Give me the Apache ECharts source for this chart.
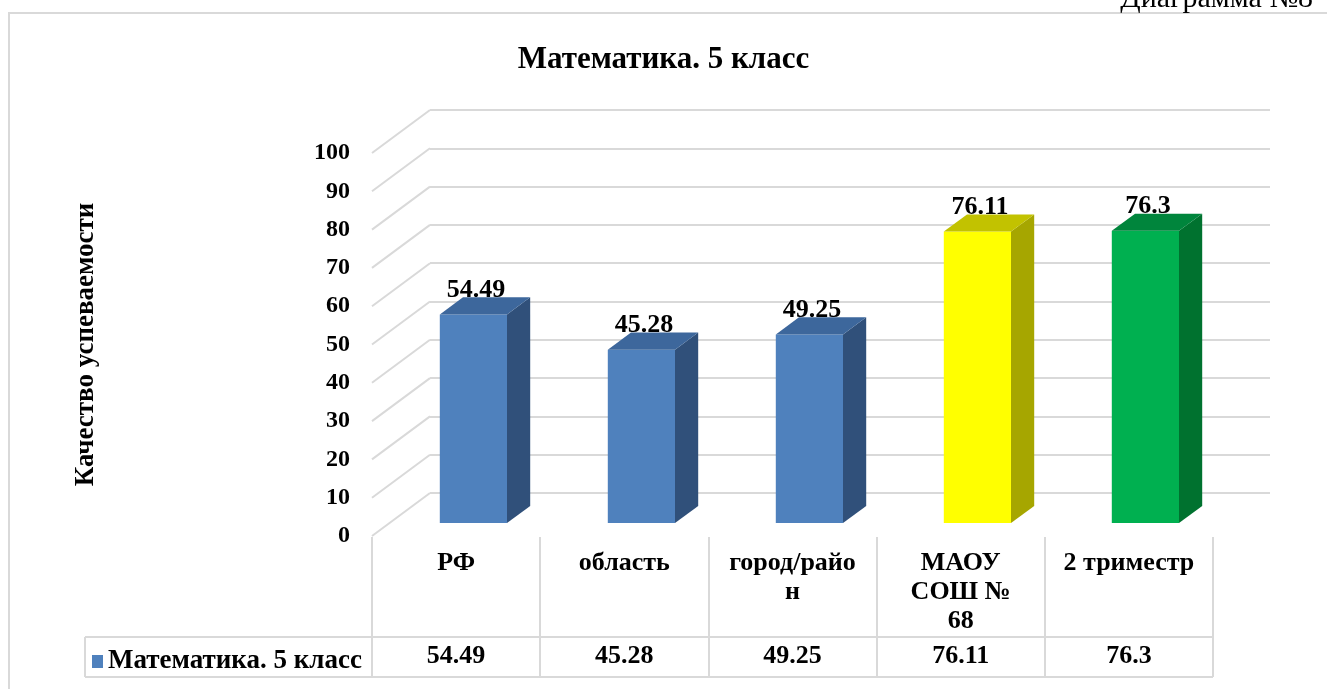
<!DOCTYPE html>
<html lang="ru">
<head>
    <meta charset="UTF-8">
    <title>Математика. 5 класс</title>
    <script src="https://cdn.jsdelivr.net/npm/echarts@6/dist/echarts.min.js"></script>
</head>
<body style="margin: 0">
<div id="container" style="width: 1327px; height: 689px"></div>
<script type="text/javascript">
    // данные диаграммы
    var categories = ['РФ', 'область', 'город/район', 'МАОУ СОШ № 68', '2 триместр'];
    var categoryLabels = ['РФ', 'область', 'город/райо\nн', 'МАОУ\nСОШ №\n68', '2 триместр'];
    var values = [54.49, 45.28, 49.25, 76.11, 76.3];
    var yTicks = [0, 10, 20, 30, 40, 50, 60, 70, 80, 90, 100];
    var seriesName = 'Математика. 5 класс';

    // цвета граней
    var frontColors = ['#4F81BD', '#4F81BD', '#4F81BD', '#FFFF00', '#00B050'];
    var sideColors = ['#30507A', '#30507A', '#30507A', '#A6A600', '#00722F'];
    var topColors = ['#3D679C', '#3D679C', '#3D679C', '#C2C200', '#00853C'];

    var FONT = '"Liberation Serif", "Times New Roman", serif';
    var DX = 58, DY = 43;   // глубина 3D
    var GRID_LINE = '#D9D9D9';

    var dom = document.getElementById('container');
    var myChart = echarts.init(dom);

    function renderBar(params, api) {
        var i = api.value(0);
        var v = api.value(1);
        var base = api.coord([i, 0]);
        var top = api.coord([i, v]);
        var bw = api.size([1, 0])[0] * 0.4;
        var f = 0.7, d = 0.4;
        var xl = base[0] - DX * f - bw / 2, xr = xl + bw;
        var yb = base[1] + DY * f, yt = top[1] + DY * f;
        var sx = DX * d, sy = DY * d;
        return {
            type: 'group',
            children: [
                {type: 'rect', shape: {x: xl, y: yt, width: bw, height: yb - yt},
                    style: {fill: frontColors[i]}},
                {type: 'polygon', shape: {points: [[xr, yt], [xr + sx, yt - sy], [xr + sx, yb - sy], [xr, yb]]},
                    style: {fill: sideColors[i]}},
                {type: 'polygon', shape: {points: [[xl, yt], [xr, yt], [xr + sx, yt - sy], [xl + sx, yt - sy]]},
                    style: {fill: topColors[i]}},
                {type: 'text', z2: 10, style: {
                        text: String(v), x: top[0] - 38, y: top[1] + 6,
                        align: 'center', verticalAlign: 'middle',
                        font: 'bold 26px ' + FONT, fill: '#000'}}
            ]
        };
    }

    function renderWall(params, api) {
        var p = api.coord([0, api.value(1)]);
        var x0 = p[0] - api.size([1, 0])[0] / 2;
        return {
            type: 'polyline',
            shape: {points: [[x0, p[1]], [x0 - DX, p[1] + DY]]},
            style: {stroke: GRID_LINE, lineWidth: 2, fill: null}
        };
    }

    var option = {
        animation: false,
        title: {
            text: seriesName, left: 'center', top: 39,
            textStyle: {fontFamily: FONT, fontWeight: 'bold', fontSize: 31, color: '#000'}
        },
        legend: {
            data: [seriesName], left: 87, top: 643, icon: 'rect',
            itemWidth: 11, itemHeight: 13, itemGap: 4,
            textStyle: {fontFamily: FONT, fontWeight: 'bold', fontSize: 27, color: '#000'}
        },
        grid: [
            {left: 430, right: 57, top: 110, bottom: 196},
            {left: 372, right: 115, top: 153, bottom: 153},
            {left: 372, right: 114, top: 537, bottom: 12}
        ],
        xAxis: [
            {gridIndex: 0, type: 'category', data: categories, show: false},
            {gridIndex: 1, type: 'category', data: categories, show: false},
            {gridIndex: 2, type: 'category', data: categoryLabels, position: 'top',
                axisLine: {show: false}, axisTick: {show: false},
                splitLine: {show: true, interval: 0, lineStyle: {color: GRID_LINE, width: 2}},
                axisLabel: {interval: 0, inside: true, margin: 12, verticalAlign: 'top', lineHeight: 29,
                    fontFamily: FONT, fontWeight: 'bold', fontSize: 26, color: '#000'}},
            {gridIndex: 2, type: 'category', data: values.map(String), position: 'bottom',
                axisLine: {show: false}, axisTick: {show: false},
                axisLabel: {interval: 0, inside: true, margin: 8, verticalAlign: 'bottom',
                    fontFamily: FONT, fontWeight: 'bold', fontSize: 26, color: '#000'}}
        ],
        yAxis: [
            {gridIndex: 0, type: 'value', min: 0, max: 100, interval: 10,
                axisLine: {show: false}, axisTick: {show: false}, axisLabel: {show: false},
                splitLine: {lineStyle: {color: GRID_LINE, width: 2}}},
            {gridIndex: 1, type: 'value', min: 0, max: 100, interval: 10,
                axisLine: {show: false}, axisTick: {show: false}, splitLine: {show: false},
                axisLabel: {margin: 22, fontFamily: FONT, fontWeight: 'bold', fontSize: 24, color: '#000'},
                name: 'Качество успеваемости', nameLocation: 'middle', nameGap: 272, nameRotate: 90,
                nameTextStyle: {fontFamily: FONT, fontWeight: 'bold', fontSize: 27, color: '#000'}},
            {gridIndex: 2, type: 'value', show: false, splitLine: {show: false}}
        ],
        graphic: [
            {type: 'rect', shape: {x: 9, y: 13, width: 1340, height: 700},
                style: {fill: null, stroke: GRID_LINE, lineWidth: 2}},
            {type: 'line', shape: {x1: 85, y1: 637, x2: 1213, y2: 637}, style: {stroke: GRID_LINE, lineWidth: 2}},
            {type: 'line', shape: {x1: 85, y1: 677, x2: 1213, y2: 677}, style: {stroke: GRID_LINE, lineWidth: 2}},
            {type: 'line', shape: {x1: 85, y1: 637, x2: 85, y2: 677}, style: {stroke: GRID_LINE, lineWidth: 2}},
            {type: 'text', x: 1313, y: 14, style: {text: 'Диаграмма №8', align: 'right', verticalAlign: 'bottom',
                    font: '30px ' + FONT, fill: '#000'}}
        ],
        series: [
            {type: 'custom', xAxisIndex: 0, yAxisIndex: 0, renderItem: renderWall,
                data: yTicks.map(function (t) { return [0, t]; }), silent: true, z: 1},
            {type: 'custom', name: seriesName, xAxisIndex: 0, yAxisIndex: 0, renderItem: renderBar,
                itemStyle: {color: '#4F81BD'},
                data: values.map(function (v, i) { return [i, v]; }), z: 2}
        ]
    };

    myChart.setOption(option);
</script>
</body>
</html>
